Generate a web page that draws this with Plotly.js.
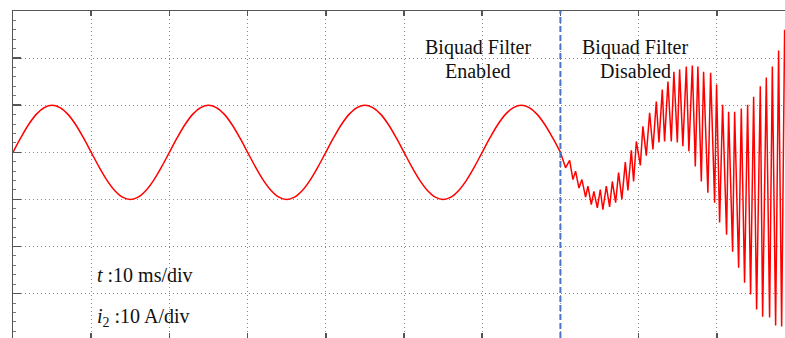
<!DOCTYPE html>
<html>
<head>
<meta charset="utf-8">
<script src="https://cdn.plot.ly/plotly-3.0.1.min.js"></script>
<style>
  html, body { margin: 0; padding: 0; overflow: hidden; background: #fff; }
  #chart { width: 785px; height: 338px; }
</style>
</head>
<body>
<div id="chart"></div>
<script>
// ---- Data (time in ms, current in A) ----
// Steady-state current while the biquad filter is enabled (0 - 70 ms)
const sineT = [0,1,2,3,4,5,6,7,8,9,10,11,12,13,14,15,16,17,18,19,
               20,21,22,23,24,25,26,27,28,29,30,31,32,33,34,35,36,37,38,39,
               40,41,42,43,44,45,46,47,48,49,50,51,52,53,54,55,56,57,58,59,
               60,61,62,63,64,65,66,67,68,69,70];
const sineI = [0,3.1,5.9,8.1,9.5,10,9.5,8.1,5.9,3.1,0,-3.1,-5.9,-8.1,-9.5,-10,-9.5,-8.1,-5.9,-3.1,
               0,3.1,5.9,8.1,9.5,10,9.5,8.1,5.9,3.1,0,-3.1,-5.9,-8.1,-9.5,-10,-9.5,-8.1,-5.9,-3.1,
               0,3.1,5.9,8.1,9.5,10,9.5,8.1,5.9,3.1,0,-3.1,-5.9,-8.1,-9.5,-10,-9.5,-8.1,-5.9,-3.1,
               0,3.1,5.9,8.1,9.5,10,9.5,8.1,5.9,3.1,0];

// Resonant current after the filter is disabled (peaks / troughs)
const oscT = [70.00,70.66,71.18,71.60,71.94,72.37,72.75,73.22,73.52,73.95,74.28,74.72,75.10,75.43,
              75.87,76.29,76.64,77.06,77.44,77.86,78.30,78.63,79.07,79.36,79.71,80.22,80.55,80.98,
              81.41,81.83,82.26,82.60,83.03,83.32,83.75,84.18,84.51,84.95,85.24,85.66,86.10,86.43,
              86.87,87.25,87.58,88.02,88.31,88.86,89.21,89.72,89.97,90.36,90.74,91.25,91.51,92.02,
              92.28,92.79,93.13,93.55,93.94,94.32,94.71,95.09,95.56,95.86,96.33,96.75,97.10,97.52,
              97.90,98.29,98.67];
const oscI = [0,-3.3,-1.7,-5.8,-4.0,-7.6,-5.8,-9.5,-7.2,-11.1,-8.3,-11.8,-7.9,-12.2,
              -7.2,-11.6,-6.2,-10.7,-4.3,-10.0,-2.1,-8.1,0.4,-6.2,2.3,-2.8,5.5,-0.7,
              8.4,0.6,10.8,2.1,13.3,2.3,15.0,2.3,17.1,2.1,17.6,1.3,18.2,0.2,
              18.4,-3.0,18.2,-6.2,17.1,-8.6,16.9,-10.7,14.4,-14.9,10.1,-17.5,8.6,-21.1,
              8.6,-24.5,9.3,-27.7,10.1,-30.2,11.8,-33.4,14.0,-34.9,15.9,-35.1,18.2,-36.8,
              21.6,-37.0,26.0];

const switchTime = 70;               // biquad filter disabled at this instant
const xDiv = 10, yDiv = 10;          // 10 ms/div, 10 A/div

const serif = 'Liberation Serif, Times New Roman, serif';

const traces = [
  { x: sineT, y: sineI, mode: 'lines', line: { color: '#ff0000', width: 1.5, shape: 'spline', smoothing: 1 },
    hoverinfo: 'skip', showlegend: false },
  { x: oscT, y: oscI, mode: 'lines', line: { color: '#ff0000', width: 1.5 },
    hoverinfo: 'skip', showlegend: false },
  { x: [sineT[0]], y: [sineI[0]], xaxis: 'x2', mode: 'lines', line: { width: 0 },
    hoverinfo: 'skip', showlegend: false }
];

const axisCol = '#555555';
const gridStyle = { showgrid: true, gridcolor: '#8a8a8a', gridwidth: 1, griddash: '1px,3px' };

const layout = {
  width: 785, height: 338,
  margin: { l: 13, r: 0, t: 11, b: 0, pad: 0 },
  paper_bgcolor: '#ffffff', plot_bgcolor: '#ffffff',
  showlegend: false,
  xaxis: Object.assign({
    range: [0, 98.72], dtick: xDiv, tick0: 0,
    showline: false, zeroline: false, showticklabels: false,
    ticks: 'inside', ticklen: 5, tickcolor: axisCol, tickwidth: 1.5
  }, gridStyle),
  xaxis2: {
    overlaying: 'x', side: 'top', matches: 'x', range: [0, 98.72], dtick: xDiv, tick0: 0,
    showline: true, linecolor: axisCol, linewidth: 1.5, showgrid: false, zeroline: false,
    showticklabels: false, ticks: 'inside', ticklen: 5, tickcolor: axisCol, tickwidth: 1.5
  },
  yaxis: Object.assign({
    range: [-39.43, 30], dtick: yDiv, tick0: 0,
    showline: true, linecolor: axisCol, linewidth: 1.5, zeroline: false, showticklabels: false,
    ticks: 'inside', ticklen: 8, tickcolor: axisCol, tickwidth: 1.5,
    minor: { ticks: 'inside', ticklen: 3, dtick: 2, tickcolor: '#777777', tickwidth: 1, showgrid: false }
  }, gridStyle),
  shapes: [
    { type: 'line', xref: 'x', yref: 'paper', x0: switchTime, x1: switchTime, y0: 0, y1: 1,
      line: { color: '#4a74c9', width: 2, dash: '6px,3px' } }
  ],
  annotations: [
    { text: 'Biquad Filter', xref: 'x', yref: 'y', x: 59.4, y: 22.2, showarrow: false,
      xanchor: 'center', yanchor: 'middle', font: { family: serif, size: 20, color: '#111' } },
    { text: 'Enabled', xref: 'x', yref: 'y', x: 59.4, y: 17.3, showarrow: false,
      xanchor: 'center', yanchor: 'middle', font: { family: serif, size: 20, color: '#111' } },
    { text: 'Biquad Filter', xref: 'x', yref: 'y', x: 79.6, y: 22.2, showarrow: false,
      xanchor: 'center', yanchor: 'middle', font: { family: serif, size: 20, color: '#111' } },
    { text: 'Disabled', xref: 'x', yref: 'y', x: 79.6, y: 17.3, showarrow: false,
      xanchor: 'center', yanchor: 'middle', font: { family: serif, size: 20, color: '#111' } },
    { text: '<i>t</i> :10 ms/div', xref: 'x', yref: 'y', x: 10.5, y: -26.0, showarrow: false,
      xanchor: 'left', yanchor: 'middle', font: { family: serif, size: 20, color: '#111' } },
    { text: '<i>i</i><sub>2</sub> :10 A/div', xref: 'x', yref: 'y', x: 10.5, y: -35.0, showarrow: false,
      xanchor: 'left', yanchor: 'middle', font: { family: serif, size: 20, color: '#111' } }
  ]
};

Plotly.newPlot('chart', traces, layout, { staticPlot: true, displayModeBar: false });
</script>
</body>
</html>
